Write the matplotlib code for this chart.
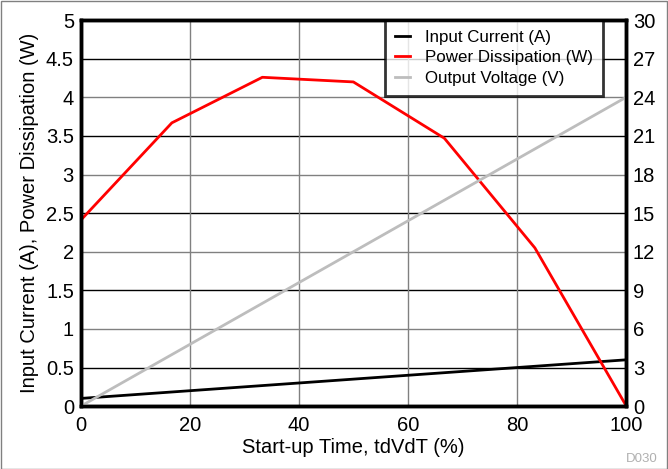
import numpy as np
import matplotlib.pyplot as plt

plt.rcParams['font.family'] = ['Liberation Sans', 'DejaVu Sans']

# Datos
t_pct = [0, 16.7, 33.3, 50, 66.7, 83.3, 100]
power_w = [2.41, 3.67, 4.26, 4.20, 3.47, 2.05, 0.01]
t_line = [0, 100]
current_a = [0.10, 0.60]
voltage_v = [0, 24]

fig = plt.figure(figsize=(6.68, 4.69), dpi=100)
ax = fig.add_axes([0.121, 0.134, 0.816, 0.823])
ax2 = ax.twinx()

# Rejilla
for y in np.arange(0.5, 5, 0.5):
    col = '#808080' if y == int(y) else 'black'
    ax.axhline(y, color=col, lw=1, zorder=0)
for x in [20, 40, 60, 80]:
    ax.axvline(x, color='#808080', lw=1, zorder=0)

l1, = ax.plot(t_line, current_a, color='black', lw=2, label='Input Current (A)')
l2, = ax.plot(t_pct, power_w, color='red', lw=2, label='Power Dissipation (W)')
l3, = ax2.plot(t_line, voltage_v, color='#bdbdbd', lw=2, label='Output Voltage (V)')

ax.set_xlim(0, 100)
ax.set_ylim(0, 5)
ax2.set_ylim(0, 30)
ax.set_xticks([0, 20, 40, 60, 80, 100])
ax.set_yticks(np.arange(0, 5.01, 0.5))
ax.set_yticklabels(['0', '0.5', '1', '1.5', '2', '2.5', '3', '3.5', '4', '4.5', '5'])
ax2.set_yticks(np.arange(0, 31, 3))

for a in (ax, ax2):
    a.tick_params(length=0, labelsize=14.5, pad=5)
    for s in a.spines.values():
        s.set_linewidth(2.5)
ax.tick_params(axis='x', pad=7)

ax.set_xlabel('Start-up Time, tdVdT (%)', fontsize=14.5, labelpad=2)
ax.set_ylabel('Input Current (A), Power Dissipation (W)', fontsize=14.5, labelpad=5)

leg = ax.legend(handles=[l1, l2, l3], loc='upper right', bbox_to_anchor=(0.958, 1.0),
                fontsize=12.2, frameon=True, fancybox=False, borderpad=0.6,
                labelspacing=0.3, handlelength=0.9, handletextpad=0.85, borderaxespad=0)
leg.get_frame().set_edgecolor('black')
leg.get_frame().set_linewidth(2)
leg.set_zorder(5)

fig.text(0.985, 0.008, 'D030', color='#b0b0b0', fontsize=9.5, ha='right', va='bottom')
fig.patches.append(plt.Rectangle((0.001, 0.001), 0.997, 0.997, transform=fig.transFigure,
                                 fill=False, edgecolor='#808080', lw=1))

fig.savefig('out.png', dpi=100)
